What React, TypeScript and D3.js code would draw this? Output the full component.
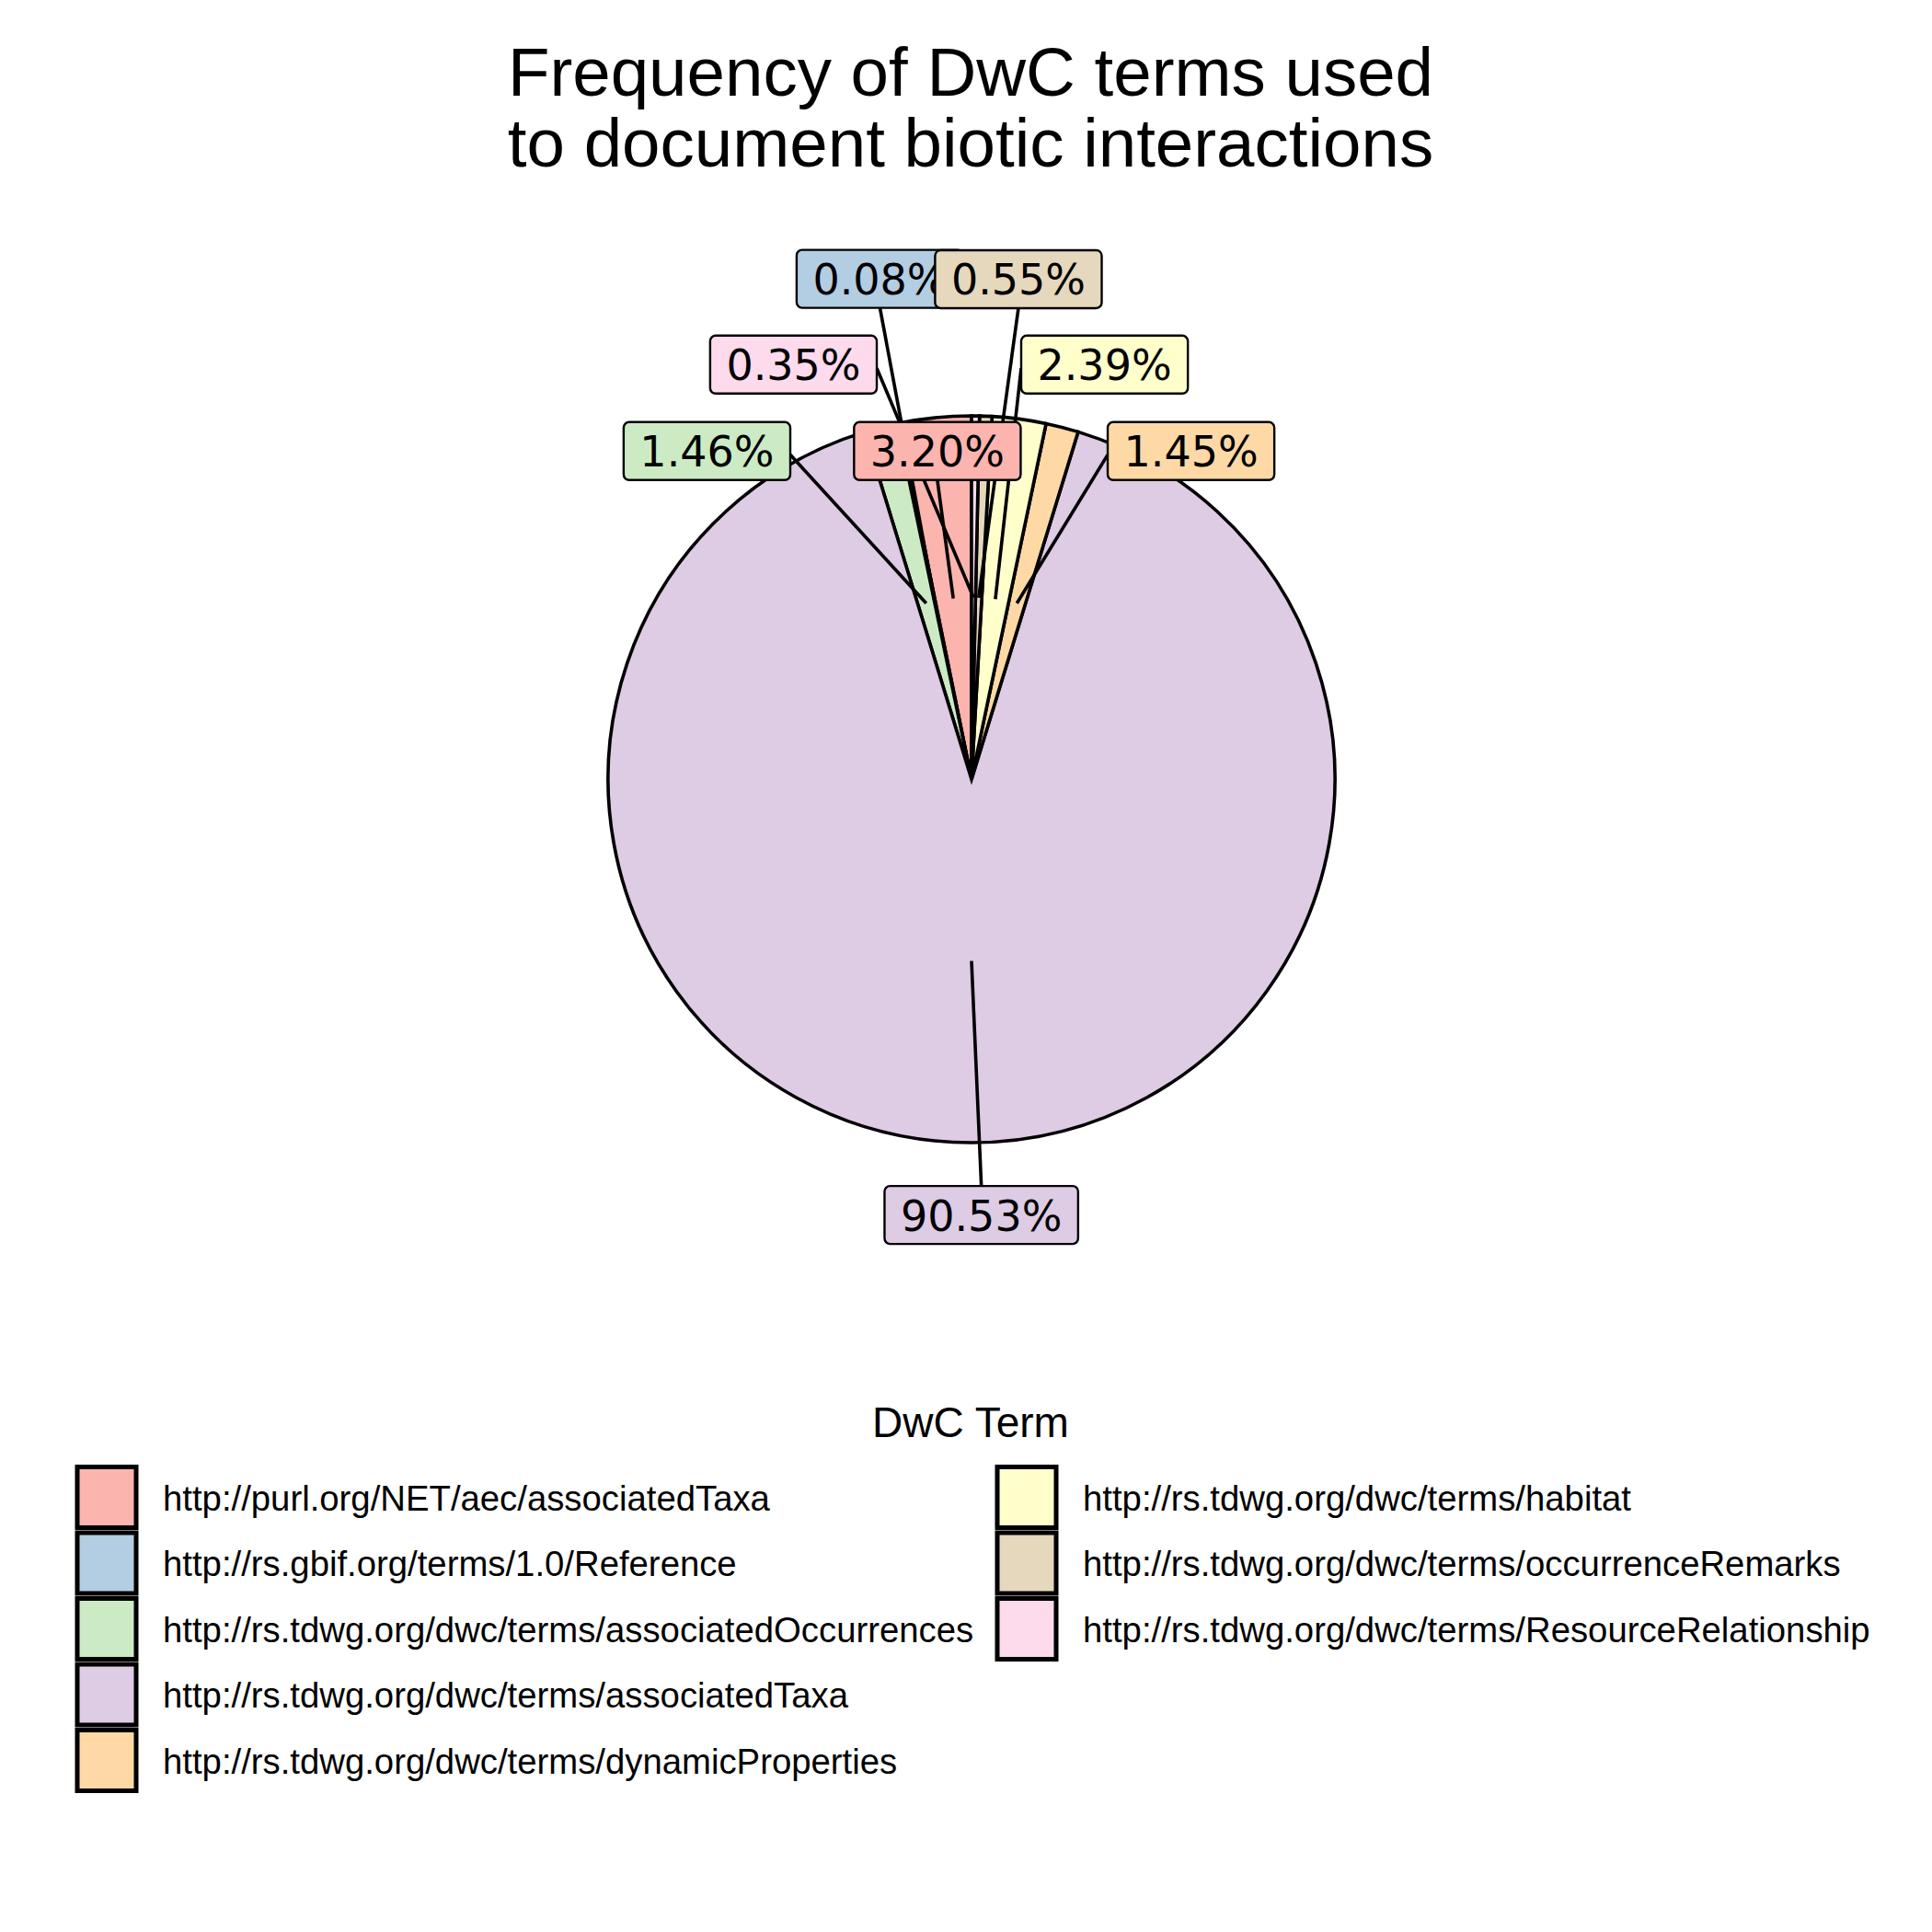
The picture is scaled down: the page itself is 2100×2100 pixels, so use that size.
import { useEffect, useRef } from "react";
import * as d3 from "d3";

// DwC terms, in legend order
const terms = [
  "http://purl.org/NET/aec/associatedTaxa",
  "http://rs.gbif.org/terms/1.0/Reference",
  "http://rs.tdwg.org/dwc/terms/associatedOccurrences",
  "http://rs.tdwg.org/dwc/terms/associatedTaxa",
  "http://rs.tdwg.org/dwc/terms/dynamicProperties",
  "http://rs.tdwg.org/dwc/terms/habitat",
  "http://rs.tdwg.org/dwc/terms/occurrenceRemarks",
  "http://rs.tdwg.org/dwc/terms/ResourceRelationship",
];
// share of records (%)
const percents = [3.2, 0.08, 1.46, 90.53, 1.45, 2.39, 0.55, 0.35];

// where the repelled labels ended up, relative to pie centre, in radius units
const labelSpot = [
  [-0.094, -0.903],
  [-0.252, -1.377],
  [-0.728, -0.903],
  [0.027, 1.199],
  [0.604, -0.903],
  [0.366, -1.141],
  [0.129, -1.376],
  [-0.49, -1.141],
];

const W = 2100,
  H = 2100;
const cx = 1056,
  cy = 847,
  R = 395;

export default function App() {
  const svgRef = useRef<SVGSVGElement>(null);

  useEffect(() => {
    const svg = d3.select(svgRef.current);
    svg.selectAll("*").remove();

    const color = d3.scaleOrdinal<string, string>().domain(terms).range(d3.schemePastel1);
    const fmt = d3.format(".2f");

    svg.append("rect").attr("width", W).attr("height", H).attr("fill", "white");

    // title
    const title = svg
      .append("text")
      .attr("text-anchor", "middle")
      .attr("font-family", "'Liberation Sans', Arial, sans-serif")
      .attr("font-size", 74.5);
    title.append("tspan").attr("x", 1055).attr("y", 104).text("Frequency of DwC terms used");
    title.append("tspan").attr("x", 1055).attr("y", 181).text("to document biotic interactions");

    // pie: clockwise from 12 o'clock, last term first (ggplot stacking)
    const idx = d3.range(terms.length);
    const pie = d3
      .pie<number>()
      .value((i) => percents[i])
      .sort((a, b) => b - a);
    const arcs = pie(idx);
    const arc = d3.arc<d3.PieArcDatum<number>>().innerRadius(0).outerRadius(R);

    const g = svg.append("g").attr("transform", `translate(${cx},${cy})`);
    g.selectAll("path")
      .data(arcs)
      .enter()
      .append("path")
      .attr("d", arc)
      .attr("fill", (d) => color(terms[d.data]))
      .attr("stroke", "black")
      .attr("stroke-width", 3.6)
      .attr("stroke-linejoin", "miter")
      .attr("stroke-miterlimit", 10);

    // labels: segments underneath, boxes on top
    const segG = svg.append("g");
    const labG = svg.append("g");

    arcs.forEach((a) => {
      const i = a.data;
      const lx = cx + labelSpot[i][0] * R;
      const ly = cy + labelSpot[i][1] * R;
      const lab = labG.append("g");
      const rect = lab.append("rect");
      const txt = lab
        .append("text")
        .attr("x", lx)
        .attr("y", ly + 17)
        .attr("text-anchor", "middle")
        .attr("font-family", "'DejaVu Sans', sans-serif")
        .attr("font-size", 46)
        .attr("fill", "black")
        .text(fmt(percents[i]) + "%");
      const tw = (txt.node() as SVGTextElement).getComputedTextLength();
      const bw = tw + 35,
        bh = 63;
      rect
        .attr("x", lx - bw / 2)
        .attr("y", ly - bh / 2)
        .attr("width", bw)
        .attr("height", bh)
        .attr("rx", 6)
        .attr("fill", color(terms[i]))
        .attr("stroke", "black")
        .attr("stroke-width", 2.4);

      // anchor at half radius, joined to the nearest side midpoint
      const [ax, ay] = arc.centroid(a);
      const px = cx + ax,
        py = cy + ay;
      const mids = [
        [lx - bw / 2, ly + 4],
        [lx + bw / 2, ly + 4],
        [lx, ly - bh / 2],
        [lx, ly + bh / 2],
      ];
      const end = mids.reduce((best, m) =>
        Math.hypot(m[0] - px, m[1] - py) < Math.hypot(best[0] - px, best[1] - py) ? m : best
      );
      segG
        .append("line")
        .attr("x1", px)
        .attr("y1", py)
        .attr("x2", end[0])
        .attr("y2", end[1])
        .attr("stroke", "black")
        .attr("stroke-width", 3.6);
    });

    // legend
    const leg = svg.append("g").attr("font-family", "'Liberation Sans', Arial, sans-serif");
    leg
      .append("text")
      .attr("x", 1055)
      .attr("y", 1562)
      .attr("text-anchor", "middle")
      .attr("font-size", 46)
      .text("DwC Term");

    const colX = [84, 1084];
    const rowY = d3.scaleLinear().domain([0, 1]).range([1627.5, 1699]);
    terms.forEach((t, i) => {
      const col = i < 5 ? 0 : 1;
      const row = col === 0 ? i : i - 5;
      const yc = rowY(row);
      leg
        .append("rect")
        .attr("x", colX[col])
        .attr("y", yc - 33)
        .attr("width", 64)
        .attr("height", 66)
        .attr("fill", color(t))
        .attr("stroke", "black")
        .attr("stroke-width", 5)
        .attr("stroke-linejoin", "miter");
      leg
        .append("text")
        .attr("x", colX[col] + 93)
        .attr("y", yc + 14)
        .attr("font-size", 38.3)
        .text(t);
    });
  }, []);

  return (
    <svg
      ref={svgRef}
      width={W}
      height={H}
      style={{ position: "absolute", left: 0, top: 0, display: "block" }}
    ></svg>
  );
}
